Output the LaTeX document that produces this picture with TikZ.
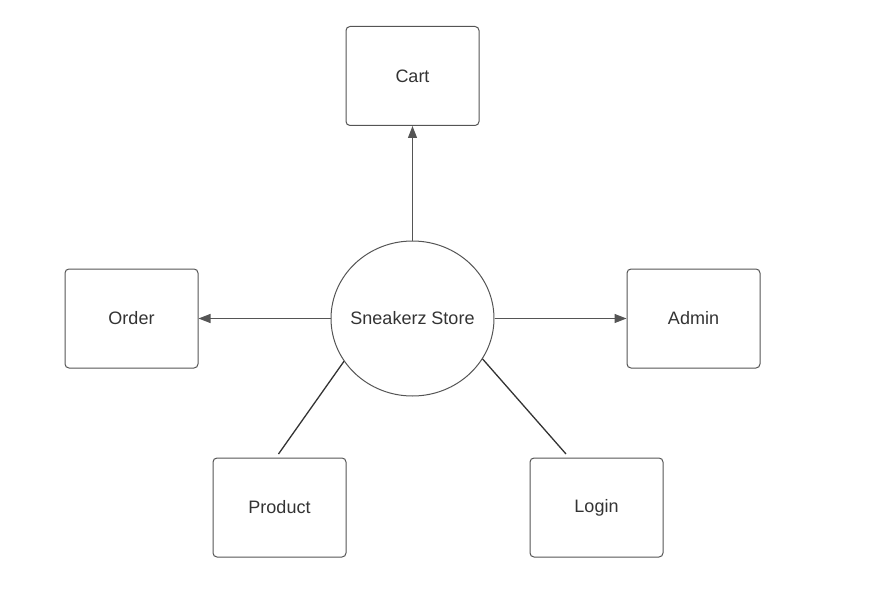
\documentclass[tikz,border=0pt]{standalone}
\usepackage{fontspec}
\setmainfont{Liberation Sans}
\usetikzlibrary{arrows.meta,shapes.geometric}
\definecolor{txt}{HTML}{333333}
\definecolor{edge}{HTML}{555555}
\begin{document}
\begin{tikzpicture}[x=1pt,y=-1pt,
  box/.style={draw=edge,line width=1pt,rounded corners=4pt,minimum width=133pt,minimum height=99pt,inner sep=0pt,font=\fontsize{18}{21}\selectfont,text=txt},
  hub/.style={draw=edge,line width=1pt,ellipse,minimum width=163pt,minimum height=155pt,inner sep=0pt},
  lbl/.style={inner sep=0pt,font=\fontsize{18}{21}\selectfont,text=txt},
  arr/.style={draw=edge,line width=1.1pt,-{Triangle[length=12pt,width=9pt]}},
  link/.style={draw=txt,line width=1.3pt}]
\useasboundingbox (0,0) rectangle (876,607);
\node[hub] (store) at (412.5,318.5) {};
\node[lbl] (storetext) at (store.center) {Sneakerz Store};
\node[box] (cart) at (412.5,76) {Cart};
\node[box] (order) at (131.5,318.5) {Order};
\node[box] (admin) at (693.5,318.5) {Admin};
\node[box] (product) at (279.5,507.5) {Product};
\node[box] (login) at (596.5,507.5) {Login};
\coordinate (pend) at (278.5,454);
\coordinate (lend) at (566,454);
\draw[arr] (store.north) -- (cart.south);
\draw[arr] (store.west) -- (order.east);
\draw[arr] (store.east) -- (admin.west);
\draw[link] (store.212) -- (pend);
\draw[link] (store.330) -- (lend);
\end{tikzpicture}
\end{document}
